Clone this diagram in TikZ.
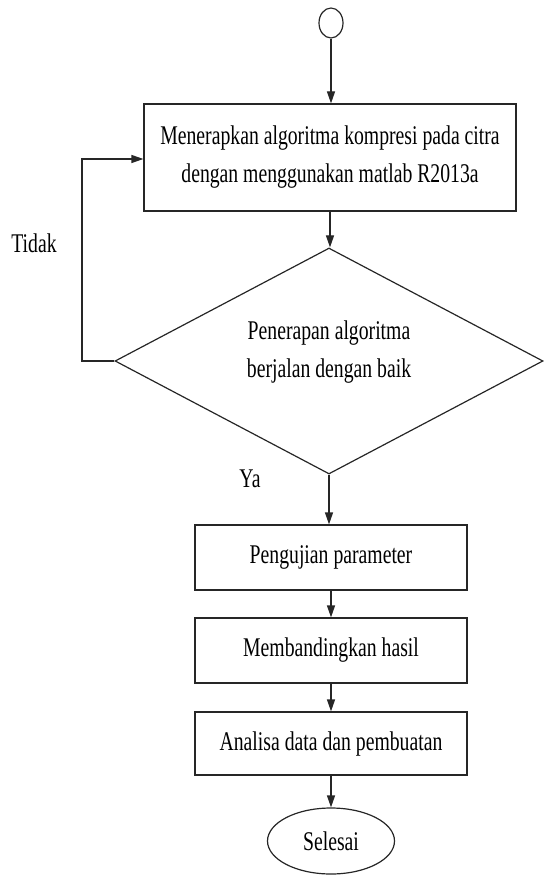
\documentclass[tikz,border=0pt]{standalone}
\usepackage{fontspec}
\setmainfont[FakeStretch=0.73]{Liberation Serif}
\usetikzlibrary{arrows.meta,shapes.geometric}
\tikzset{
  ln/.style={line width=1.2pt, draw=black!85},
  arr/.style={ln, -{Triangle[width=8pt,length=12pt]}},
  proc/.style={ln, rectangle, inner sep=0pt, align=center},
  txt/.style={align=center, inner sep=0pt, font=\fontsize{27}{38}\selectfont},
}
\begin{document}
\begin{tikzpicture}[x=1pt,y=-1pt]
\useasboundingbox (0,0) rectangle (543,877);
% start
\node[ln, ellipse, minimum width=24pt, minimum height=30pt, inner sep=0pt] (start) at (331,23) {};
% box 1
\node[proc, minimum width=372pt, minimum height=107pt, txt] (b1) at (330,157.5)
  {Menerapkan algoritma kompresi pada citra\\dengan menggunakan matlab R2013a};
% decision
\node[ln, diamond, aspect=1.894, minimum width=428pt, minimum height=226pt, inner sep=0pt] (dec) at (329,361) {};
\node[txt] (dtext) at (329,352) {Penerapan algoritma\\berjalan dengan baik};
% lower boxes
\node[proc, minimum width=272pt, minimum height=65pt, txt] (b2) at (331,557.5) {Pengujian parameter};
\node[proc, minimum width=272pt, minimum height=65pt, txt] (b3) at (331,650.5) {Membandingkan hasil};
\node[proc, minimum width=272pt, minimum height=63pt, txt] (b4) at (331,743.5) {Analisa data dan pembuatan};
\node[ln, ellipse, minimum width=127pt, minimum height=66pt, inner sep=0pt, txt] (end) at (331,841) {Selesai};
% labels
\node[txt] (tidak) at (34,243) {Tidak};
\node[txt] (ya) at (250,479) {Ya};
% connectors
\coordinate (fb1) at (82,361);
\coordinate (fb2) at (82,159);
\draw[arr] (start.south) -- (start.south |- b1.north);
\draw[arr] (b1.south) -- (b1.south |- dec.north);
\draw[arr] (dec.west) -- (fb1) -- (fb2) -- (fb2 -| b1.west);
\draw[arr] (dec.south) -- (dec.south |- b2.north);
\draw[arr] (b2.south) -- (b3.north);
\draw[arr] (b3.south) -- (b4.north);
\draw[arr] (b4.south) -- (end.north);
\end{tikzpicture}
\end{document}
